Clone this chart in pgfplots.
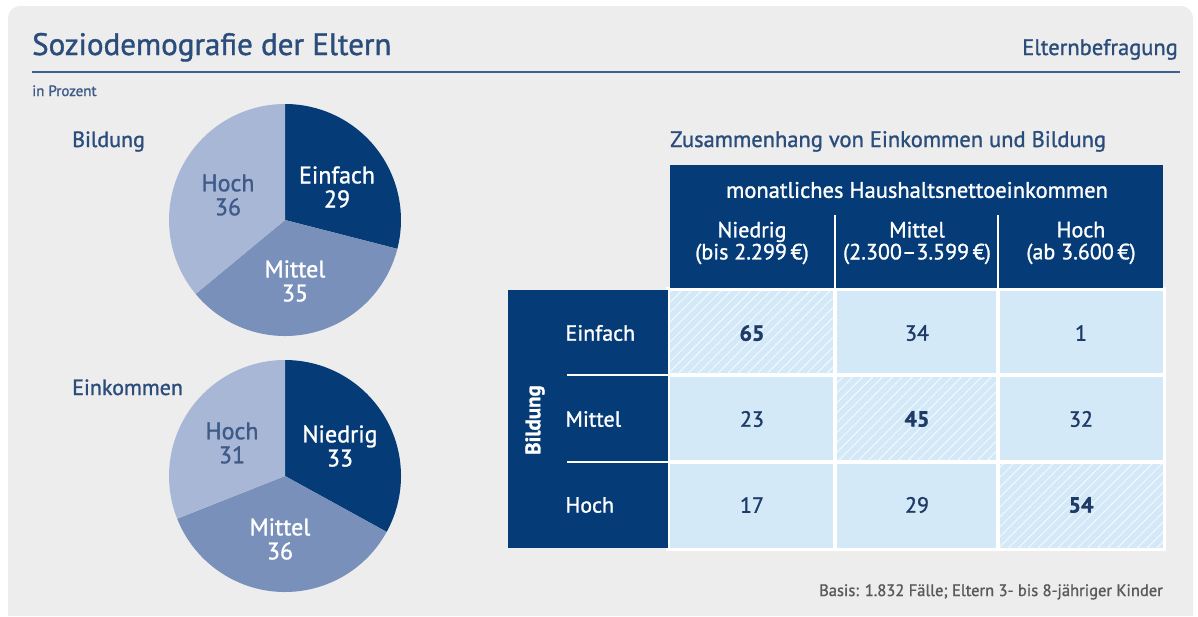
\documentclass[border=0pt]{standalone}
\usepackage{fontspec}
\setmainfont{PT Sans}[RawFeature={embolden=1.2}]
\usepackage{pgfplots}
\pgfplotsset{compat=1.18}
\usetikzlibrary{patterns.meta}
\definecolor{panelbg}{HTML}{EDEDED}
\definecolor{navy}{HTML}{053B76}
\definecolor{titleblue}{HTML}{2A4D7C}
\definecolor{ruleblue}{HTML}{3C6191}
\definecolor{pieMid}{HTML}{7890BA}
\definecolor{pieLight}{HTML}{A8B7D5}
\definecolor{hochtext}{HTML}{3D5A88}
\definecolor{cellblue}{HTML}{D3E9F8}
\definecolor{numblue}{HTML}{1E3A66}
\definecolor{footgray}{HTML}{5A5A5A}
\newcommand{\fs}[1]{\fontsize{#1}{#1}\selectfont}

\begin{document}
\begin{tikzpicture}
\begin{axis}[
  scale only axis, width=1198pt, height=616pt,
  xmin=0, xmax=1198, ymin=0, ymax=616, y dir=reverse,
  hide axis, clip=false,
]
  % background and panel
  \fill[white] (axis cs:0,0) rectangle (axis cs:1198,616);
  \fill[panelbg] (axis cs:8,616) [rounded corners=12pt]-- (axis cs:8,6) -- (axis cs:1193,6) [sharp corners]-- (axis cs:1193,616) -- cycle;

  % header
  \node[anchor=base west, font=\fs{31}, text=titleblue, inner sep=0] at (axis cs:32,55) {Soziodemografie der Eltern};
  \node[anchor=base east, font=\fs{22.5}, text=titleblue, inner sep=0] at (axis cs:1178,55) {Elternbefragung};
  \draw[ruleblue, line width=1.5pt] (axis cs:32,72) -- (axis cs:1180,72);
  \node[anchor=base west, font=\fs{15}, text=hochtext, inner sep=0] at (axis cs:32,96) {in Prozent};

  % pie: Bildung (29 / 35 / 36)
  \node[anchor=base west, font=\fs{22}, text=titleblue, inner sep=0] at (axis cs:72,147) {Bildung};
  \fill[navy] (axis cs:285,220) -- ++(90:116pt) arc[start angle=90, delta angle=-29*3.6, radius=116pt] -- cycle;
  \fill[pieMid] (axis cs:285,220) -- ++({90-29*3.6}:116pt) arc[start angle={90-29*3.6}, delta angle=-35*3.6, radius=116pt] -- cycle;
  \fill[pieLight] (axis cs:285,220) -- ++({90-64*3.6}:116pt) arc[start angle={90-64*3.6}, delta angle=-36*3.6, radius=116pt] -- cycle;
  \node[font=\fs{24}, text=white, align=center] at (axis cs:337,187) {Einfach\\29};
  \node[font=\fs{24}, text=white, align=center] at (axis cs:295,281) {Mittel\\35};
  \node[font=\fs{24}, text=hochtext, align=center] at (axis cs:228,195) {Hoch\\36};

  % pie: Einkommen (33 / 36 / 31)
  \node[anchor=base west, font=\fs{22}, text=titleblue, inner sep=0] at (axis cs:72,395) {Einkommen};
  \fill[navy] (axis cs:285,476) -- ++(90:116pt) arc[start angle=90, delta angle=-33*3.6, radius=116pt] -- cycle;
  \fill[pieMid] (axis cs:285,476) -- ++({90-33*3.6}:116pt) arc[start angle={90-33*3.6}, delta angle=-36*3.6, radius=116pt] -- cycle;
  \fill[pieLight] (axis cs:285,476) -- ++({90-69*3.6}:116pt) arc[start angle={90-69*3.6}, delta angle=-31*3.6, radius=116pt] -- cycle;
  \node[font=\fs{24}, text=white, align=center] at (axis cs:340,446) {Niedrig\\33};
  \node[font=\fs{24}, text=white, align=center] at (axis cs:280,539) {Mittel\\36};
  \node[font=\fs{24}, text=hochtext, align=center] at (axis cs:232,443) {Hoch\\31};

  % table
  \node[anchor=base west, font=\fs{22.5}, text=titleblue, inner sep=0] at (axis cs:670,147) {Zusammenhang von Einkommen und Bildung};
  \fill[white] (axis cs:666,287) rectangle (axis cs:1166,551);
  \fill[navy] (axis cs:670,165) rectangle (axis cs:1163,288);
  \fill[navy] (axis cs:508,290) rectangle (axis cs:668,548);
  \draw[white, line width=2pt] (axis cs:835,215) -- (axis cs:835,288);
  \draw[white, line width=2pt] (axis cs:998,215) -- (axis cs:998,288);
  \draw[white, line width=2pt] (axis cs:567,375) -- (axis cs:668,375);
  \draw[white, line width=2pt] (axis cs:567,462) -- (axis cs:668,462);

  \node[font=\fs{22.5}, text=white] at (axis cs:917,190) {monatliches Haushaltsnettoeinkommen};
  \node[font=\fs{22}, text=white, align=center] at (axis cs:752,243) {Niedrig\\(bis 2.299\,€)};
  \node[font=\fs{22}, text=white, align=center] at (axis cs:917,243) {Mittel\\(2.300–3.599\,€)};
  \node[font=\fs{22}, text=white, align=center] at (axis cs:1081,243) {Hoch\\(ab 3.600\,€)};
  \node[anchor=west, font=\fs{22}, text=white] at (axis cs:562,333) {Einfach};
  \node[anchor=west, font=\fs{22}, text=white] at (axis cs:562,419) {Mittel};
  \node[anchor=west, font=\fs{22}, text=white] at (axis cs:562,505) {Hoch};
  \node[rotate=90, font=\bfseries\fs{21}, text=white] at (axis cs:535,420) {Bildung};

  % cells
  \addplot[fill=cellblue, draw=none] coordinates {(670,291) (833,291) (833,373) (670,373)} -- cycle;
  \addplot[fill=cellblue, draw=none] coordinates {(837,291) (996,291) (996,373) (837,373)} -- cycle;
  \addplot[fill=cellblue, draw=none] coordinates {(1000,291) (1163,291) (1163,373) (1000,373)} -- cycle;
  \addplot[fill=cellblue, draw=none] coordinates {(670,377) (833,377) (833,460) (670,460)} -- cycle;
  \addplot[fill=cellblue, draw=none] coordinates {(837,377) (996,377) (996,460) (837,460)} -- cycle;
  \addplot[fill=cellblue, draw=none] coordinates {(1000,377) (1163,377) (1163,460) (1000,460)} -- cycle;
  \addplot[fill=cellblue, draw=none] coordinates {(670,464) (833,464) (833,548) (670,548)} -- cycle;
  \addplot[fill=cellblue, draw=none] coordinates {(837,464) (996,464) (996,548) (837,548)} -- cycle;
  \addplot[fill=cellblue, draw=none] coordinates {(1000,464) (1163,464) (1163,548) (1000,548)} -- cycle;
  % hatched diagonal
  \addplot[draw=none, pattern={Lines[angle=45, distance=7pt, line width=1pt]}, pattern color=white!70!cellblue] coordinates {(670,291) (833,291) (833,373) (670,373)} -- cycle;
  \addplot[draw=none, pattern={Lines[angle=45, distance=7pt, line width=1pt]}, pattern color=white!70!cellblue] coordinates {(837,377) (996,377) (996,460) (837,460)} -- cycle;
  \addplot[draw=none, pattern={Lines[angle=45, distance=7pt, line width=1pt]}, pattern color=white!70!cellblue] coordinates {(1000,464) (1163,464) (1163,548) (1000,548)} -- cycle;

  % values
  \addplot[only marks, mark=none, point meta=explicit symbolic,
    nodes near coords, nodes near coords align={center},
    every node near coord/.append style={font=\fs{22}, text=numblue}]
    coordinates {(917,333) [34] (1081,333) [1] (752,419) [23] (1081,419) [32] (752,505) [17] (917,505) [29]};
  \addplot[only marks, mark=none, point meta=explicit symbolic,
    nodes near coords, nodes near coords align={center},
    every node near coord/.append style={font=\bfseries\fs{22}, text=numblue}]
    coordinates {(752,333) [65] (917,419) [45] (1081,505) [54]};

  \node[anchor=base east, font=\fs{16.5}, text=footgray, inner sep=0] at (axis cs:1163,596) {Basis: 1.832 Fälle; Eltern 3- bis 8-jähriger Kinder};
\end{axis}
\end{tikzpicture}
\end{document}
